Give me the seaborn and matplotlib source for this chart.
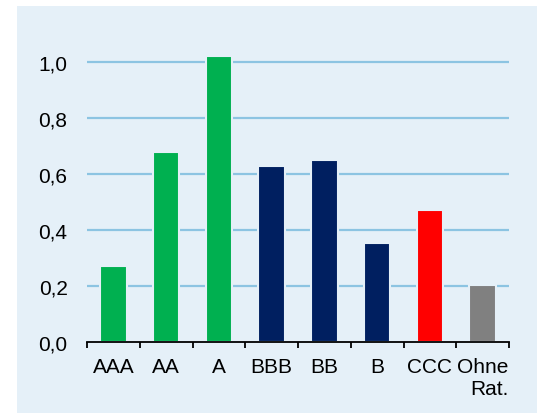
import matplotlib
matplotlib.use("Agg")
import matplotlib.pyplot as plt
import matplotlib.patches as mpatches
import seaborn as sns
import pandas as pd

# ratings and values
ratings = ['AAA', 'AA', 'A', 'BBB', 'BB', 'B', 'CCC', 'Ohne\nRat.']
values = [0.27, 0.68, 1.02, 0.63, 0.65, 0.355, 0.47, 0.205]
bar_colors = ['#00B050', '#00B050', '#00B050', '#001F60', '#001F60', '#001F60', '#FF0000', '#808080']
y_ticks = [0.0, 0.2, 0.4, 0.6, 0.8, 1.0]
y_labels = ['0,0', '0,2', '0,4', '0,6', '0,8', '1,0']

panel = '#E5F0F8'
grid_col = '#8CC4E2'

sns.set_style("white")
plt.rcParams['font.family'] = ['Liberation Sans', 'DejaVu Sans']
plt.rcParams['text.color'] = 'black'
plt.rcParams['xtick.color'] = 'black'
plt.rcParams['ytick.color'] = 'black'

df = pd.DataFrame({'rating': ratings, 'value': values})

fig = plt.figure(figsize=(5.47, 4.14), dpi=100)
fig.patch.set_facecolor('white')
bg = mpatches.Rectangle((17 / 547, 0), 520 / 547, 1 - 7 / 414,
                        transform=fig.transFigure, facecolor=panel,
                        edgecolor='none', zorder=-10)
fig.patches.append(bg)

ax = fig.add_axes([87 / 547, 1 - 343 / 414, 422 / 547, 308 / 414])
ax.set_zorder(1)
ax.set_facecolor(panel)
ax.set_axisbelow(True)

sns.barplot(data=df, x='rating', y='value', hue='rating', palette=bar_colors,
            saturation=1, legend=False, width=0.5, edgecolor=panel, linewidth=1.5, ax=ax)

ax.set_ylim(0, 1.1)
ax.set_xlim(-0.5, len(ratings) - 0.5)
ax.set_yticks(y_ticks)
ax.set_yticklabels(y_labels, fontsize=15, color='black')
for y in y_ticks[1:]:
    ax.axhline(y, color=grid_col, linewidth=1.6, zorder=0)

ax.set_xticks(range(len(ratings)))
ax.set_xticklabels(ratings, fontsize=15, color='black')
ax.set_xticks([i - 0.5 for i in range(len(ratings) + 1)], minor=True)
ax.tick_params(axis='x', which='major', bottom=False, length=0, pad=11)
ax.tick_params(axis='x', which='minor', bottom=True, length=4, width=1.3,
               color='black', direction='out')
ax.tick_params(axis='y', length=0, pad=14)
for lab in ax.get_xticklabels():
    lab.set_multialignment('right')

ax.set_xlabel('')
ax.set_ylabel('')
for s in ['top', 'right', 'left']:
    ax.spines[s].set_visible(False)
ax.spines['bottom'].set_color('black')
ax.spines['bottom'].set_linewidth(1.3)
ax.spines['bottom'].set_zorder(5)

fig.savefig('out.png', dpi=100)
